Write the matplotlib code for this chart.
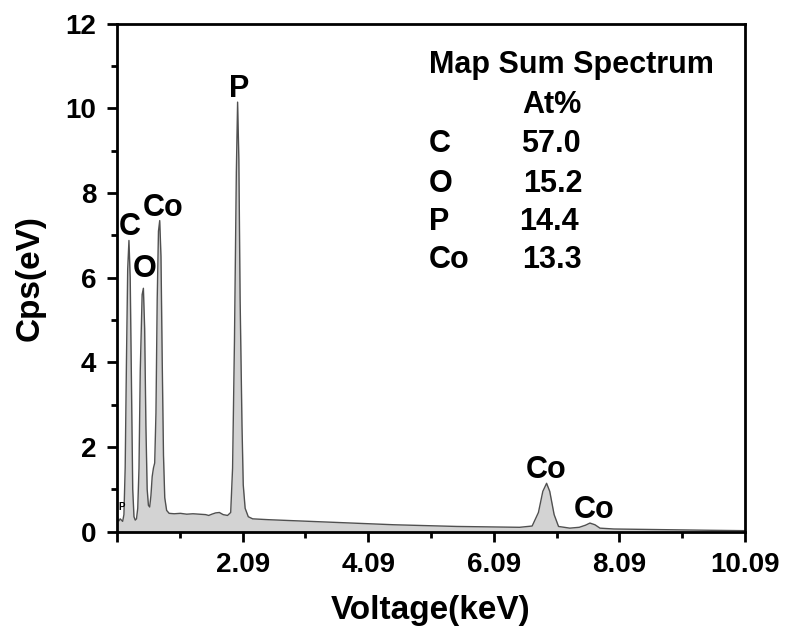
import numpy as np
import matplotlib.pyplot as plt
from matplotlib.ticker import MultipleLocator, FixedLocator

plt.rcParams['font.family'] = ['Liberation Sans', 'DejaVu Sans']
plt.rcParams['font.weight'] = 'bold'

# spectrum (energy in keV, counts in cps/eV)
energy = [0.09, 0.10, 0.12, 0.14, 0.16, 0.18, 0.20, 0.22, 0.24, 0.26, 0.28, 0.30,
          0.32, 0.34, 0.36, 0.38, 0.40, 0.42, 0.44, 0.46, 0.49, 0.51, 0.53, 0.55,
          0.57, 0.59, 0.61, 0.63, 0.65, 0.67, 0.69, 0.71, 0.73, 0.75, 0.77, 0.79,
          0.81, 0.83, 0.85, 0.88, 0.92, 1.00, 1.10, 1.20, 1.30, 1.40, 1.50, 1.55,
          1.60, 1.66, 1.72, 1.78, 1.85, 1.90, 1.93, 1.96, 1.99, 2.01, 2.03, 2.05,
          2.08, 2.10, 2.13, 2.18, 2.25, 2.50, 3.00, 3.50, 4.00, 4.50, 5.00, 5.50,
          6.00, 6.50, 6.70, 6.80, 6.87, 6.93, 6.98, 7.05, 7.12, 7.30, 7.45, 7.55,
          7.62, 7.70, 7.78, 8.00, 8.50, 9.00, 9.50, 10.09]
cps = [0.42, 0.30, 0.25, 0.30, 0.27, 0.24, 0.40, 1.50, 4.00, 6.20, 6.88, 6.00,
       3.50, 1.00, 0.35, 0.27, 0.30, 0.55, 1.50, 3.80, 5.60, 5.75, 4.80, 2.50,
       1.00, 0.62, 0.58, 0.85, 1.30, 1.50, 1.62, 2.80, 5.50, 7.10, 7.35, 6.50,
       4.00, 1.80, 0.80, 0.50, 0.43, 0.42, 0.43, 0.41, 0.42, 0.41, 0.40, 0.38,
       0.41, 0.44, 0.45, 0.40, 0.38, 0.45, 1.50, 4.50, 8.50, 10.15, 8.80, 5.50,
       2.50, 1.10, 0.55, 0.35, 0.30, 0.28, 0.25, 0.22, 0.19, 0.16, 0.14, 0.12,
       0.11, 0.10, 0.13, 0.45, 0.95, 1.14, 0.95, 0.40, 0.12, 0.08, 0.10, 0.15,
       0.20, 0.16, 0.08, 0.06, 0.05, 0.04, 0.03, 0.02]

# peak labels: text, x, baseline y, size
peak_labels = [('C', 0.30, 7.01, 22), ('O', 0.535, 6.02, 22), ('Co', 0.82, 7.46, 22),
               ('P', 2.03, 10.27, 22), ('Co', 6.93, 1.26, 22), ('Co', 7.68, 0.32, 22),
               ('P', 0.17, 0.50, 7)]

elements = ['C', 'O', 'P', 'Co']
at_pct = ['57.0', '15.2', '14.4', '13.3']

fig = plt.figure(figsize=(7.88, 6.33), dpi=100)
ax = fig.add_axes([0.1485, 0.1603, 0.797, 0.802])

ax.fill_between(energy, cps, 0, color='#d3d3d3', lw=0)
ax.plot(energy, cps, color='#505050', lw=1.0)

ax.set_xlim(0.09, 10.09)
ax.set_ylim(0, 12)
ax.xaxis.set_major_locator(FixedLocator([0.09, 2.09, 4.09, 6.09, 8.09, 10.09]))
ax.xaxis.set_minor_locator(FixedLocator([1.09, 3.09, 5.09, 7.09, 9.09]))
ax.set_xticklabels(['', '2.09', '4.09', '6.09', '8.09', '10.09'])
ax.yaxis.set_major_locator(MultipleLocator(2))
ax.yaxis.set_minor_locator(MultipleLocator(1))
ax.tick_params(which='major', direction='out', length=7, width=2, labelsize=20, pad=8)
ax.tick_params(which='minor', direction='out', length=4, width=2)
for s in ax.spines.values():
    s.set_linewidth(2)

ax.set_xlabel('Voltage(keV)', fontsize=24, fontweight='bold', labelpad=12)
ax.set_ylabel('Cps(eV)', fontsize=24, fontweight='bold', labelpad=14)

for t, x, y, fs in peak_labels:
    ax.text(x, y, t, ha='center', va='baseline', fontsize=fs, fontweight='bold')

ax.text(5.058, 10.84, 'Map Sum Spectrum', ha='left', va='baseline', fontsize=22, fontweight='bold')
ax.text(6.55, 9.89, 'At%', ha='left', va='baseline', fontsize=22, fontweight='bold')
row_y = [8.97, 8.03, 7.13, 6.23]
val_x = [6.52, 6.55, 6.487, 6.534]
for el, v, y, vx in zip(elements, at_pct, row_y, val_x):
    ax.text(5.058, y, el, ha='left', va='baseline', fontsize=22, fontweight='bold')
    ax.text(vx, y, v, ha='left', va='baseline', fontsize=22, fontweight='bold')

fig.savefig('out.png', dpi=100)
